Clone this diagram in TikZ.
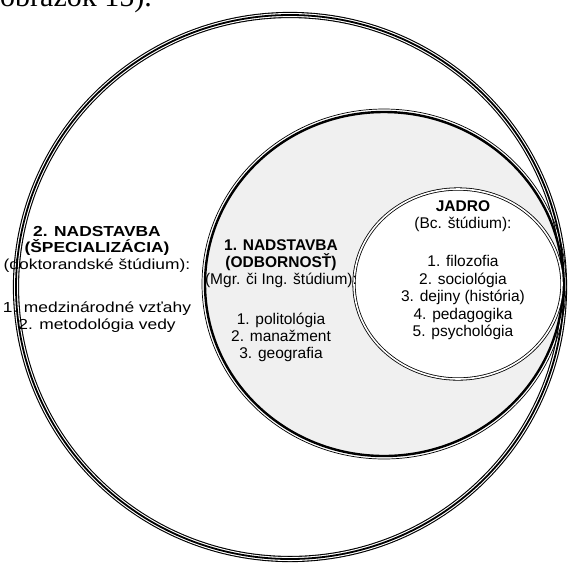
\documentclass[tikz,border=0pt]{standalone}
\usepackage{fontspec}
\setmainfont{Liberation Serif}
\setsansfont{Liberation Sans}
\usetikzlibrary{positioning}
\definecolor{ringgray}{RGB}{240,240,240}
\tikzstyle{level} = [font=\sffamily\fontsize{15.5}{17}\selectfont, align=center, inner sep=0pt, anchor=north]
\tikzstyle{outerring} = [draw=black, line width=1.1pt, double=white, double distance=4pt]
\tikzstyle{midring} = [draw=black, line width=2.4pt]
\tikzstyle{innerring} = [draw=black, line width=0.8pt, double=white, double distance=1.6pt]

\begin{document}
\begin{tikzpicture}[x=1pt, y=-1pt]
\useasboundingbox (0,0) rectangle (572,566);
% Rings
\coordinate (outerc) at (290,287);
\coordinate (midc) at (384,284);
\coordinate (innerc) at (458,284);
\fill[white] (outerc) ellipse [x radius=274, y radius=272];
\draw[outerring] (outerc) ellipse [x radius=274, y radius=272];
\draw[line width=1.8pt] (outerc) ellipse [x radius=274, y radius=272];
\fill[ringgray] (midc) ellipse [x radius=179, y radius=172];
\draw[line width=0.7pt] (midc) ellipse [x radius=182, y radius=175];
\draw[midring] (midc) ellipse [x radius=179, y radius=172];
\draw[innerring, fill=white] (innerc) ellipse [x radius=104, y radius=95];

% Labels
\node (spec) [level, font=\sffamily\fontsize{14.5}{16.5}\selectfont, xscale=1.2, transform shape] at (97,226)
  {\textbf{2. NADSTAVBA}\\\textbf{(ŠPECIALIZÁCIA)}\\(doktorandské štúdium):\\[27pt]1. medzinárodné vzťahy\\2. metodológia vedy};
\node (odb) [level] at (281,239)
  {\textbf{1. NADSTAVBA}\\\textbf{(ODBORNOSŤ)}\\(Mgr. či Ing. štúdium):\\[23pt]1. politológia\\2. manažment\\3. geografia};
\node (jadro) [level, font=\sffamily\fontsize{15.5}{17.5}\selectfont] at (463,200)
  {\textbf{JADRO}\\(Bc. štúdium):\\[20.5pt]1. filozofia\\2. sociológia\\3. dejiny (história)\\4. pedagogika\\5. psychológia};

% Caption fragment
\node (capt) [anchor=base west, inner sep=0pt, font=\fontsize{30}{30}\selectfont] at (0,6) {obrázok 15).};
\end{tikzpicture}
\end{document}
